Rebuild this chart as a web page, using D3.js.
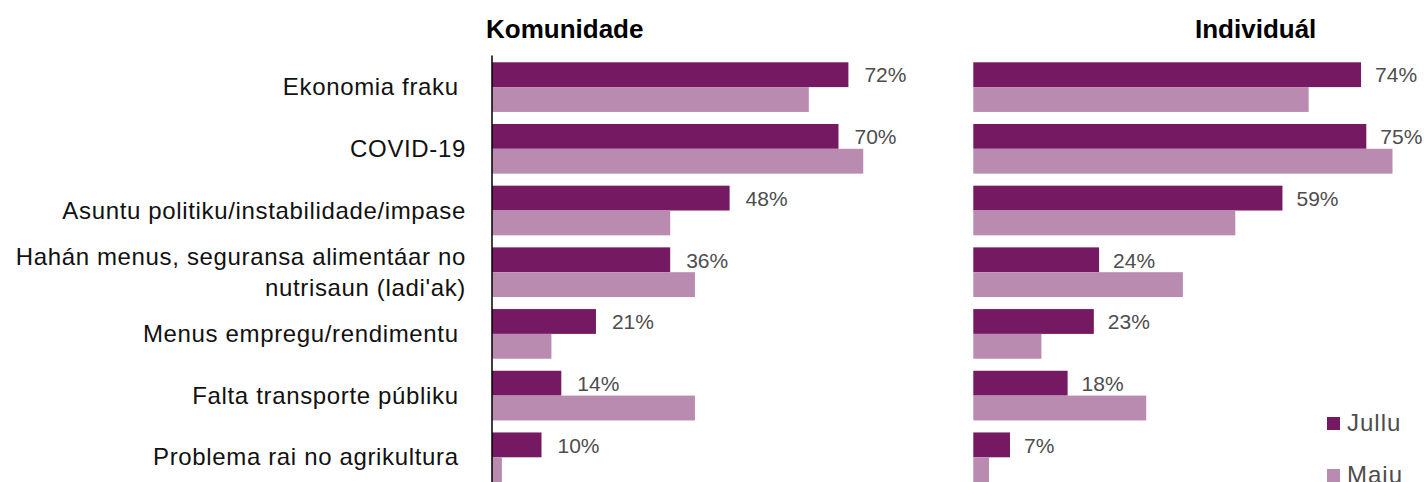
<!DOCTYPE html>
<html>
<head>
<meta charset="utf-8">
<script src="https://cdn.jsdelivr.net/npm/d3@7"></script>
<style>
  body { margin: 0; background: #fff; }
  svg text { font-family: "Liberation Sans", Arial, sans-serif; }
</style>
</head>
<body>
<div id="chart"></div>
<script>
// categories (trailing spaces kept as in the source labels)
var categories = [
    "Ekonomia fraku ",
    "COVID-19",
    "Asuntu politiku/instabilidade/impase",
    "Hahán menus, seguransa alimentáar no|nutrisaun (ladi'ak)",
    "Menus empregu/rendimentu ",
    "Falta transporte públiku ",
    "Problema rai no agrikultura "
];
var series = ["Jullu", "Maiu"];
var panelTitles = ["Komunidade", "Individuál"];

// values in percent
var komunidadeJullu = [72, 70, 48, 36, 21, 14, 10];
var komunidadeMaiu = [64, 75, 36, 41, 12, 41, 2];
var individualJullu = [74, 75, 59, 24, 23, 18, 7];
var individualMaiu = [64, 80, 50, 40, 13, 33, 3];

var colors = {"Jullu": "#751962", "Maiu": "#ba8bb0"};

var width = 1424, height = 482;

var svg = d3.select("#chart").append("svg")
    .attr("width", width)
    .attr("height", height);

// vertical band scale shared by both panels
var y = d3.scaleBand()
    .domain(categories)
    .range([55, 489.4])
    .paddingInner(0.195)
    .paddingOuter(0.118);

var ySub = d3.scaleBand()
    .domain(series)
    .range([0, y.bandwidth()]);

var panels = [
    {title: panelTitles[0], titleX: 486, x0: 492, pxPerPct: 4.95, labelGap: 16, axis: true,
     jullu: komunidadeJullu, maiu: komunidadeMaiu},
    {title: panelTitles[1], titleX: 1195, x0: 973.3, pxPerPct: 5.24, labelGap: 14, axis: false,
     jullu: individualJullu, maiu: individualMaiu}
];

panels.forEach(function(p){
    var x = d3.scaleLinear().domain([0, 100]).range([p.x0, p.x0 + 100 * p.pxPerPct]);

    var rows = categories.map(function(c, i){
        return {cat: c, values: [{s: "Jullu", v: p.jullu[i]}, {s: "Maiu", v: p.maiu[i]}]};
    });

    var g = svg.append("g");

    g.append("text")
        .attr("x", p.titleX)
        .attr("y", 37.5)
        .style("font-size", "26px")
        .style("font-weight", "bold")
        .attr("fill", "#000")
        .text(p.title);

    var groups = g.selectAll("g.row").data(rows).enter().append("g")
        .attr("class", "row")
        .attr("transform", function(d){ return "translate(0," + y(d.cat) + ")"; });

    groups.selectAll("rect").data(function(d){ return d.values; }).enter().append("rect")
        .attr("x", x(0))
        .attr("y", function(d){ return ySub(d.s); })
        .attr("width", function(d){ return x(d.v) - x(0); })
        .attr("height", ySub.bandwidth())
        .attr("fill", function(d){ return colors[d.s]; });

    // value labels only for Jullu
    groups.append("text")
        .attr("x", function(d){ return x(d.values[0].v) + p.labelGap; })
        .attr("y", ySub("Jullu") + ySub.bandwidth() / 2 + 7.8)
        .style("font-size", "21px")
        .attr("fill", "#4d4d4d")
        .text(function(d){ return d.values[0].v + "%"; });

    if (p.axis) {
        var axis = d3.axisLeft(y).tickSize(0).tickFormat("");
        var ag = g.append("g")
            .attr("transform", "translate(" + (p.x0 - 0.5) + ",0)")
            .call(axis);
        ag.select(".domain").attr("stroke", "#000").attr("stroke-width", 1.5);
    }
});

// category labels
var labels = svg.append("g").selectAll("text").data(categories).enter().append("text")
    .attr("x", 466)
    .attr("text-anchor", "end")
    .attr("xml:space", "preserve")
    .style("white-space", "pre")
    .style("font-size", "24px")
    .style("letter-spacing", "0.65px")
    .attr("fill", "#111");

labels.each(function(d){
    var lines = d.split("|");
    var cy = y(d) + y.bandwidth() / 2;
    var lh = 31;
    var t = d3.select(this);
    lines.forEach(function(line, i){
        t.append("tspan")
            .attr("x", 466)
            .attr("y", cy + 8 + (i - (lines.length - 1) / 2) * lh)
            .text(line);
    });
});

// legend
var legend = svg.append("g").selectAll("g").data(series).enter().append("g")
    .attr("transform", function(d, i){ return "translate(1327," + (417 + i * 52) + ")"; });

legend.append("rect")
    .attr("width", 13)
    .attr("height", 13)
    .attr("fill", function(d){ return colors[d]; });

legend.append("text")
    .attr("x", 20)
    .attr("y", 13.5)
    .style("font-size", "24px")
    .style("letter-spacing", "1px")
    .attr("fill", "#4d4d4d")
    .text(function(d){ return d; });
</script>
</body>
</html>
